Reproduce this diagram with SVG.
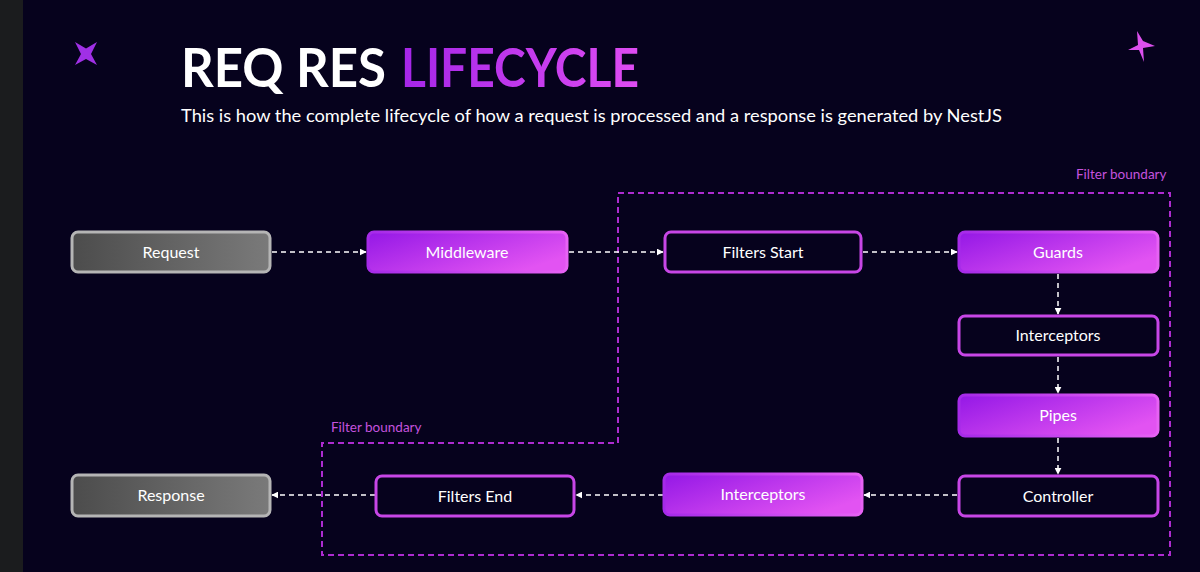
<svg xmlns="http://www.w3.org/2000/svg" width="1200" height="572" viewBox="0 0 1200 572">
<defs>
<linearGradient id="gPurple" x1="0" y1="0" x2="1" y2="0.6">
<stop offset="0" stop-color="#9418e6"/>
<stop offset="1" stop-color="#e253f2"/>
</linearGradient>
<linearGradient id="gPurpleS" x1="0" y1="0" x2="1" y2="0">
<stop offset="0" stop-color="#a52ae8"/>
<stop offset="1" stop-color="#e762f4"/>
</linearGradient>
<linearGradient id="gGray" x1="0" y1="0" x2="1" y2="0">
<stop offset="0" stop-color="#4c4c4c"/>
<stop offset="1" stop-color="#7a7a7a"/>
</linearGradient>
<linearGradient id="gTitle" x1="0" y1="0" x2="1" y2="0">
<stop offset="0" stop-color="#a526e8"/>
<stop offset="1" stop-color="#de4cf2"/>
</linearGradient>
<marker id="arr" viewBox="0 0 10 10" refX="9" refY="5" markerWidth="7" markerHeight="7" markerUnits="userSpaceOnUse" orient="auto">
<path d="M0,0 L10,5 L0,10 z" fill="#ffffff"/>
</marker>
<style>
.bg{fill:#06021d}
.node rect{rx:6;ry:6;stroke-width:3}
.grad rect{fill:url(#gPurple);stroke:url(#gPurpleS)}
.dark rect{fill:#06021d;stroke:#c746e6}
.gray rect{fill:url(#gGray);stroke:#b5b5b5}
.node text{font-family:"Lato","Open Sans",sans-serif;font-size:16px;fill:#ffffff;text-anchor:middle}
.conn line{stroke:#ffffff;stroke-width:1.5;stroke-dasharray:5 4;marker-end:url(#arr)}
.boundary{fill:none;stroke:#ad2bd0;stroke-width:2;stroke-dasharray:6 4}
.blabel{font-family:"Lato","Open Sans",sans-serif;font-size:13.5px;fill:#c453de}
</style>
</defs>
<rect class="bg" x="0" y="0" width="1200" height="572"/>
<rect x="0" y="0" width="23" height="572" fill="#1b1c1e"/>

<path d="M75,42 L86,48.5 L97,42 L91,54 L97,65 L86,59 L75,65 L81,54 Z" fill="#a030e6"/>
<path d="M1137,31 L1143,41 L1155,46 L1143,48 L1144,62 L1139,50 L1128,50 L1138,45 Z" fill="#dc50ee"/>

<text x="181" y="87" font-family="Lato,'Open Sans',sans-serif" font-weight="700" font-size="54" fill="#ffffff" textLength="205" lengthAdjust="spacingAndGlyphs">REQ RES</text>
<text x="401" y="87" font-family="Lato,'Open Sans',sans-serif" font-weight="700" font-size="54" fill="url(#gTitle)" textLength="238" lengthAdjust="spacingAndGlyphs">LIFECYCLE</text>
<text x="181" y="122" font-family="Lato,'Open Sans',sans-serif" font-size="17.5" fill="#ffffff" textLength="821" lengthAdjust="spacingAndGlyphs">This is how the complete lifecycle of how a request is processed and a response is generated by NestJS</text>

<g id="boundary">
<path class="boundary" d="M618,193 L1170,193 L1170,555 L322,555 L322,443 L618,443 Z"/>
<text class="blabel" x="1076" y="179">Filter boundary</text>
<text class="blabel" x="331" y="432">Filter boundary</text>
</g>

<g id="connectors" class="conn">
<line x1="272" y1="252" x2="366" y2="252"/>
<line x1="569" y1="252" x2="663" y2="252"/>
<line x1="863" y1="252" x2="957" y2="252"/>
<line x1="1058" y1="274" x2="1058" y2="314"/>
<line x1="1058" y1="357" x2="1058" y2="393"/>
<line x1="1058" y1="438" x2="1058" y2="474"/>
<line x1="957" y1="495" x2="864" y2="495"/>
<line x1="663" y1="495" x2="576" y2="495"/>
<line x1="375" y1="495" x2="272" y2="495"/>
</g>

<g id="request" class="node gray"><rect x="72" y="232" width="198" height="40"/><text x="171" y="257.5">Request</text></g>
<g id="middleware" class="node grad"><rect x="368" y="232" width="199" height="40"/><text x="467" y="257.5">Middleware</text></g>
<g id="filters-start" class="node dark"><rect x="665" y="232" width="196" height="40"/><text x="763" y="257.5">Filters Start</text></g>
<g id="guards" class="node grad"><rect x="959" y="232" width="199" height="40"/><text x="1058" y="257.5">Guards</text></g>
<g id="interceptors-in" class="node dark"><rect x="959" y="316" width="199" height="39"/><text x="1058" y="341">Interceptors</text></g>
<g id="pipes" class="node grad"><rect x="959" y="395" width="199" height="41"/><text x="1058" y="421">Pipes</text></g>
<g id="controller" class="node dark"><rect x="959" y="476" width="199" height="40"/><text x="1058" y="501.5">Controller</text></g>
<g id="interceptors-out" class="node grad"><rect x="664" y="474" width="198" height="41"/><text x="763" y="500">Interceptors</text></g>
<g id="filters-end" class="node dark"><rect x="376" y="476" width="198" height="40"/><text x="475" y="501.5">Filters End</text></g>
<g id="response" class="node gray"><rect x="72" y="475" width="198" height="41"/><text x="171" y="501">Response</text></g>
</svg>
